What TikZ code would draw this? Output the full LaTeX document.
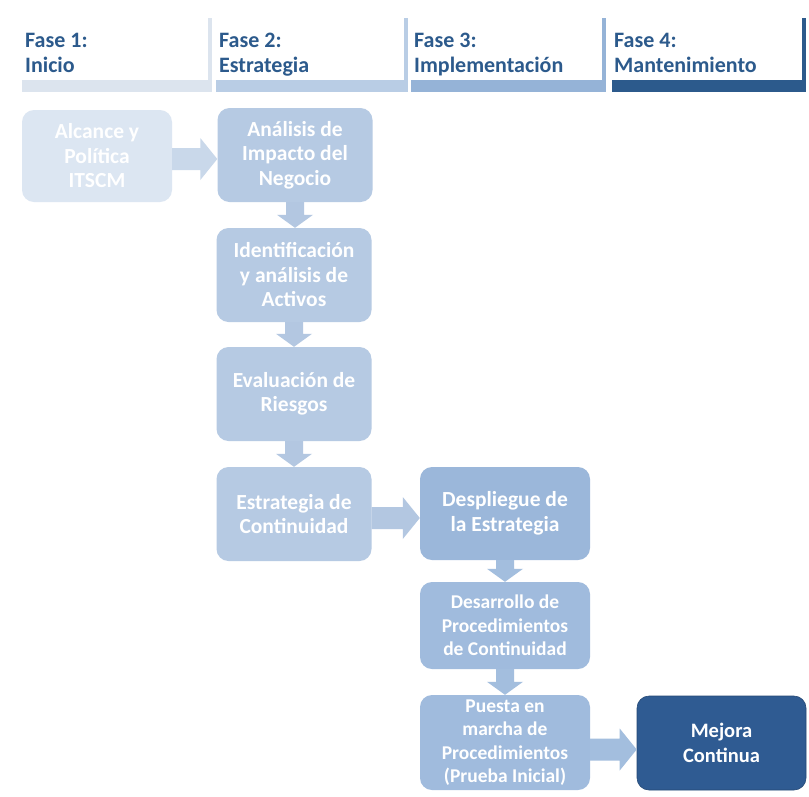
\documentclass[tikz,border=0pt]{standalone}
\usepackage{fontspec}
\setmainfont{Carlito}
\usetikzlibrary{calc}

\definecolor{hdtext}{HTML}{2C5A8C}
\definecolor{phA}{HTML}{DCE4EE}
\definecolor{phB}{HTML}{B9CDE5}
\definecolor{phC}{HTML}{95B3D7}
\definecolor{phD}{HTML}{2C5A8C}
\definecolor{boxA}{HTML}{DCE6F2}
\definecolor{boxB}{HTML}{B6CAE3}
\definecolor{boxC}{HTML}{9BB7DA}
\definecolor{boxD}{HTML}{A0BBDD}
\definecolor{boxE}{HTML}{2F5B92}
\definecolor{arrA}{HTML}{C9D8EA}
\definecolor{arrB}{HTML}{B3C7E1}
\definecolor{arrC}{HTML}{A3BEDE}

\tikzset{
  phasehead/.style={anchor=north west, align=left, inner sep=0pt, text=hdtext,
    font=\bfseries\fontsize{22}{25}\selectfont},
  stepbox/.style={rounded corners=12pt, align=center, text=white, inner sep=0pt,
    font=\bfseries\fontsize{21.5}{24.5}\selectfont, minimum width=155pt, minimum height=94pt},
  smallbox/.style={stepbox, font=\bfseries\fontsize{19.5}{23.5}\selectfont,
    minimum width=170pt},
}

% block arrow pointing right, from the east side of #1 to the west side of #2,
% its axis lowered by #4 below the centre of #1
\newcommand\rightblock[4]{%
  \fill[#3] let \p1=($(#1.east)+(0,#4)$), \p2=(#2.west) in
    (\x1,\y1+11pt) -- (\x2-17pt,\y1+11pt) -- (\x2-17pt,\y1+21pt) -- (\x2,\y1)
    -- (\x2-17pt,\y1-21pt) -- (\x2-17pt,\y1-11pt) -- (\x1,\y1-11pt) -- cycle;}
% block arrow pointing down, from the south side of #1 to the north side of #2
\newcommand\downblock[3]{%
  \fill[#3] let \p1=(#1.south), \p2=(#2.north) in
    (\x1-9pt,\y1) -- (\x1-9pt,\y2+13pt) -- (\x1-18pt,\y2+13pt) -- (\x1,\y2)
    -- (\x1+18pt,\y2+13pt) -- (\x1+9pt,\y2+13pt) -- (\x1+9pt,\y1) -- cycle;}

\begin{document}
\begin{tikzpicture}[x=1pt,y=-1pt]
\useasboundingbox[fill=white] (0,0) rectangle (809,796);

% phase header: right-edge rules and bottom bars
\fill[phA] (208,18) rectangle (212,92);
\fill[phB] (404,18) rectangle (408,92);
\fill[phC] (602,18) rectangle (606,92);
\fill[phD] (802,18) rectangle (806,92);
\fill[phA] (22,80) rectangle (212,92);
\fill[phB] (216,80) rectangle (408,92);
\fill[phC] (411,80) rectangle (606,92);
\fill[phD] (612,80) rectangle (806,92);

\node[phasehead] (h1) at (25,33)  {Fase 1:\\Inicio};
\node[phasehead] (h2) at (219,33) {Fase 2:\\Estrategia};
\node[phasehead] (h3) at (414,33) {Fase 3:\\Implementación};
\node[phasehead] (h4) at (614,33) {Fase 4:\\Mantenimiento};

% process steps
\node[stepbox, fill=boxA, minimum width=150pt, minimum height=92pt] (alc) at (97,156)
  {Alcance y\\Política\\ITSCM};
\node[stepbox, fill=boxB] (bia) at (295,155) {Análisis de\\Impacto del\\Negocio};
\node[stepbox, fill=boxB] (act) at (294,275) {Identificación\\y análisis de\\Activos};
\node[stepbox, fill=boxB] (rie) at (294,394) {Evaluación de\\Riesgos};
\node[stepbox, fill=boxB] (est) at (294,514) {Estrategia de\\Continuidad};
\node[stepbox, fill=boxC, minimum width=170pt, minimum height=93pt] (des) at (505,513.5)
  {Despliegue de\\la Estrategia};
\node[smallbox, fill=boxD, minimum height=87pt] (pro) at (505,625.5)
  {Desarrollo de\\Procedimientos\\de Continuidad};
\node[smallbox, fill=boxD, minimum height=95pt] (pru) at (505,742.5)
  {Puesta en\\marcha de\\Procedimientos\\(Prueba Inicial)};
\node[smallbox, fill=boxE, draw=boxE!80!black, line width=0.6pt, minimum width=169pt,
      minimum height=94pt, font=\bfseries\fontsize{20.5}{24.5}\selectfont] (mej) at (721.5,743)
  {Mejora\\Continua};

% connectors
\rightblock{alc}{bia}{arrA}{3}
\downblock{bia}{act}{arrB}
\downblock{act}{rie}{arrB}
\downblock{rie}{est}{arrB}
\rightblock{est}{des}{arrB}{4}
\downblock{des}{pro}{arrC}
\downblock{pro}{pru}{arrC}
\rightblock{pru}{mej}{arrC}{7}
\end{tikzpicture}
\end{document}
